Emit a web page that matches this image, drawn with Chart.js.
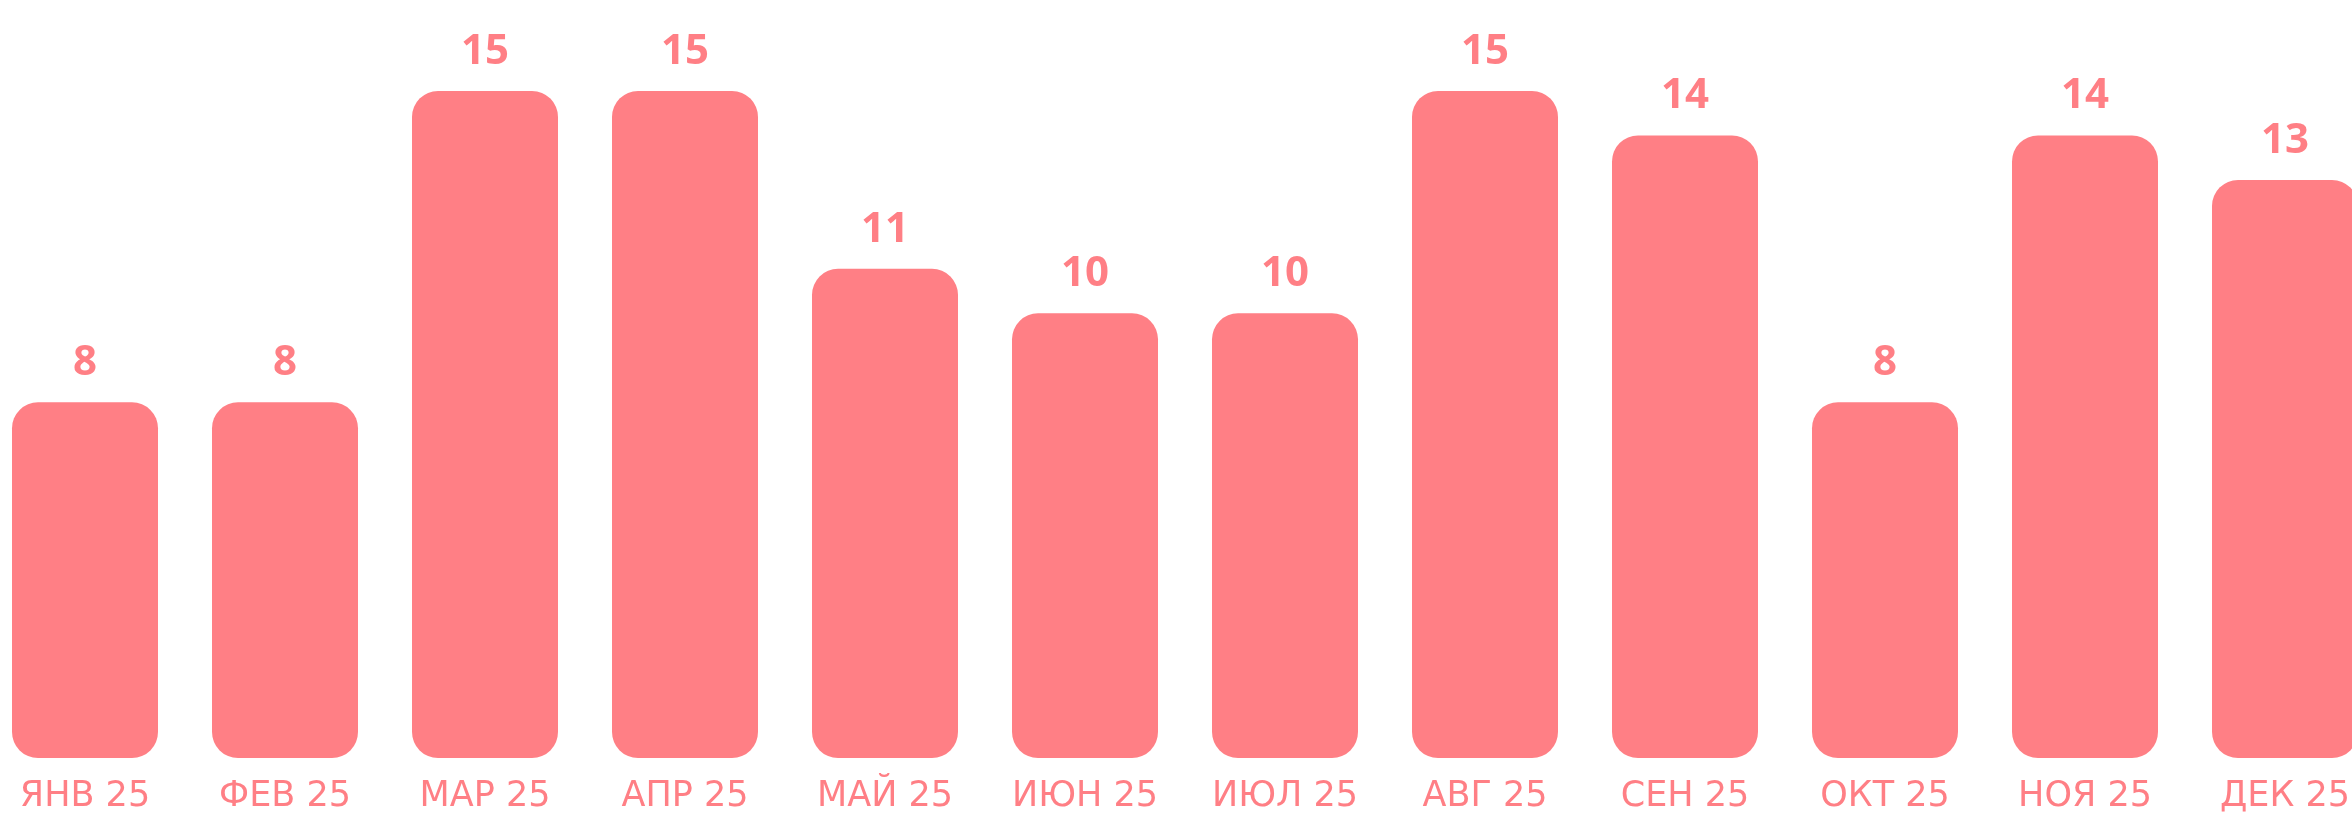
<!DOCTYPE html>
<html lang="ru">
<head>
<meta charset="utf-8">
<title>Bars</title>
<script src="https://cdn.jsdelivr.net/npm/chart.js@4"></script>
<style>
    html, body { margin: 0; padding: 0; background: #fff; }
    body { width: 2352px; height: 832px; overflow: hidden; position: relative; }
    #wrap { position: absolute; left: -15px; top: 0; width: 2400px; height: 860px; }
</style>
</head>
<body>
<div id="wrap"><canvas id="barChart"></canvas></div>
<script>
const months = ['ЯНВ 25', 'ФЕВ 25', 'МАР 25', 'АПР 25', 'МАЙ 25', 'ИЮН 25',
                'ИЮЛ 25', 'АВГ 25', 'СЕН 25', 'ОКТ 25', 'НОЯ 25', 'ДЕК 25'];
const counts = [8, 8, 15, 15, 11, 10, 10, 15, 14, 8, 14, 13];

const pink = '#ff7f85';

// подписи значений над столбиками
const valueLabels = {
    id: 'valueLabels',
    afterDatasetsDraw(chart) {
        const ctx = chart.ctx;
        const meta = chart.getDatasetMeta(0);
        ctx.save();
        ctx.fillStyle = pink;
        ctx.font = 'bold 42px "Open Sans", sans-serif';
        ctx.textAlign = 'center';
        ctx.textBaseline = 'alphabetic';
        meta.data.forEach((bar, i) => {
            ctx.fillText(String(counts[i]), bar.x, bar.y - 27);
        });
        ctx.restore();
    }
};

let barChart;

function initBarChart() {
    const ctx = document.getElementById('barChart').getContext('2d');
    barChart = new Chart(ctx, {
        type: 'bar',
        data: {
            labels: months,
            datasets: [{
                data: counts,
                backgroundColor: pink,
                borderRadius: 26,
                borderSkipped: false,
                categoryPercentage: 1,
                barPercentage: 0.73
            }]
        },
        options: {
            responsive: true,
            maintainAspectRatio: false,
            animation: false,
            layout: { padding: { top: 91, bottom: 24, left: 0, right: 0 } },
            plugins: {
                legend: { display: false },
                tooltip: { enabled: false }
            },
            scales: {
                y: { display: false, min: 0, max: 15 },
                x: {
                    grid: { display: false, drawTicks: false },
                    border: { display: false },
                    ticks: {
                        color: pink,
                        padding: 18,
                        font: { family: '"DejaVu Sans", sans-serif', size: 35 }
                    }
                }
            }
        },
        plugins: [valueLabels]
    });
}

document.addEventListener('DOMContentLoaded', initBarChart);
</script>
</body>
</html>
